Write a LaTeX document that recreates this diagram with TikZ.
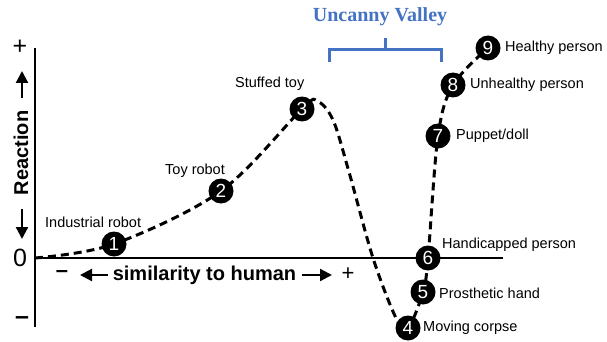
\documentclass[tikz,border=0pt]{standalone}
\usepackage{fontspec}
\setmainfont{Liberation Sans}
\newfontfamily\uvfont{Liberation Serif}
\usetikzlibrary{arrows.meta}
\definecolor{uvblue}{RGB}{68,114,196}
\begin{document}
\begin{tikzpicture}[x=1pt,y=-1pt,
  num/.style={circle, fill=black, minimum size=25pt, inner sep=0pt, text=white, font=\fontsize{19}{19}\selectfont},
  lbl/.style={anchor=west, inner sep=0pt, font=\fontsize{14.5}{15}\selectfont},
  curvestyle/.style={dash pattern=on 8pt off 5pt, line width=3pt},
  axarrow/.style={line width=2.2pt, -{Triangle[length=12pt,width=12pt]}},
  axlbl/.style={inner sep=0pt, font=\fontsize{25}{25}\selectfont},
  bigbold/.style={inner sep=0pt, font=\fontsize{20}{20}\selectfont\bfseries}]
\useasboundingbox (0,0) rectangle (607,342);
% axes
\coordinate (ytop) at (35,48);
\coordinate (ybot) at (35,327);
\coordinate (o) at (35,258);
\coordinate (xend) at (503,258);
\draw[line width=2.4pt] (ytop) -- (ybot);
\draw[line width=1.8pt] (o) -- (xend);
% axis labels
\node[axlbl] (plus) at (20,47) {+};
\node[axlbl] (zero) at (20,258) {0};
\node[axlbl, font=\fontsize{25}{25}\selectfont\bfseries] (minus) at (22,321) {–};
\node[bigbold, rotate=90] (react) at (21,153) {Reaction};
\coordinate (ua0) at (22,98);
\coordinate (ua1) at (22,71);
\coordinate (da0) at (22,209);
\coordinate (da1) at (22,239);
\draw[axarrow] (ua0) -- (ua1);
\draw[axarrow] (da0) -- (da1);
\node[bigbold] (sim) at (204.5,275) {similarity to human};
\node[axlbl, font=\fontsize{22}{22}\selectfont\bfseries] (xminus) at (62,274) {–};
\node[axlbl, font=\fontsize{22}{22}\selectfont] (xplus) at (348,274) {+};
\coordinate (la0) at (108,275);
\coordinate (la1) at (80,275);
\coordinate (ra0) at (302,275);
\coordinate (ra1) at (332,275);
\draw[axarrow] (la0) -- (la1);
\draw[axarrow] (ra0) -- (ra1);
% uncanny valley brace
\node[inner sep=0pt, text=uvblue, font=\fontsize{20}{20}\uvfont\bfseries] (uv) at (380,17) {Uncanny Valley};
\coordinate (bl) at (329,62);
\coordinate (blt) at (329,50);
\coordinate (br) at (441,62);
\coordinate (brt) at (441,50);
\coordinate (bm) at (385,50);
\coordinate (bmt) at (385,38);
\draw[uvblue, line width=3pt] (bl) -- (blt) -- (brt) -- (br);
\draw[uvblue, line width=3pt] (bm) -- (bmt);
% curve points
\coordinate (p1) at (114,244);
\coordinate (p2) at (221,191);
\coordinate (p3) at (302,109);
\coordinate (k1) at (317,101);
\coordinate (k2) at (333,120);
\coordinate (k3) at (349,172);
\coordinate (k4) at (373,258);
\coordinate (k5) at (396,318);
\coordinate (p4) at (408,328);
\coordinate (p5) at (423,292);
\coordinate (p6) at (428,258);
\coordinate (p7) at (438,136);
\coordinate (p8) at (453,85);
\coordinate (p9) at (488,48);
\draw[curvestyle] plot[smooth, tension=0.55] coordinates {(o) (p1) (p2) (p3) (k1) (k2) (k3) (k4) (k5) (p4) (p5) (p6) (p7) (p8) (p9)};
% numbered nodes
\node[num] (n1) at (p1) {1};
\node[num] (n2) at (p2) {2};
\node[num] (n3) at (p3) {3};
\node[num] (n4) at (p4) {4};
\node[num] (n5) at (p5) {5};
\node[num] (n6) at (p6) {6};
\node[num] (n7) at (p7) {7};
\node[num] (n8) at (p8) {8};
\node[num] (n9) at (p9) {9};
% labels
\node[lbl] (l1) at (45,222) {Industrial robot};
\node[lbl] (l2) at (165,171) {Toy robot};
\node[lbl] (l3) at (235,84) {Stuffed toy};
\node[lbl] (l4) at (423,328) {Moving corpse};
\node[lbl] (l5) at (439,293) {Prosthetic hand};
\node[lbl] (l6) at (442,245) {Handicapped person};
\node[lbl] (l7) at (456,136) {Puppet/doll};
\node[lbl] (l8) at (470,85) {Unhealthy person};
\node[lbl] (l9) at (505,48) {Healthy person};
\end{tikzpicture}
\end{document}
